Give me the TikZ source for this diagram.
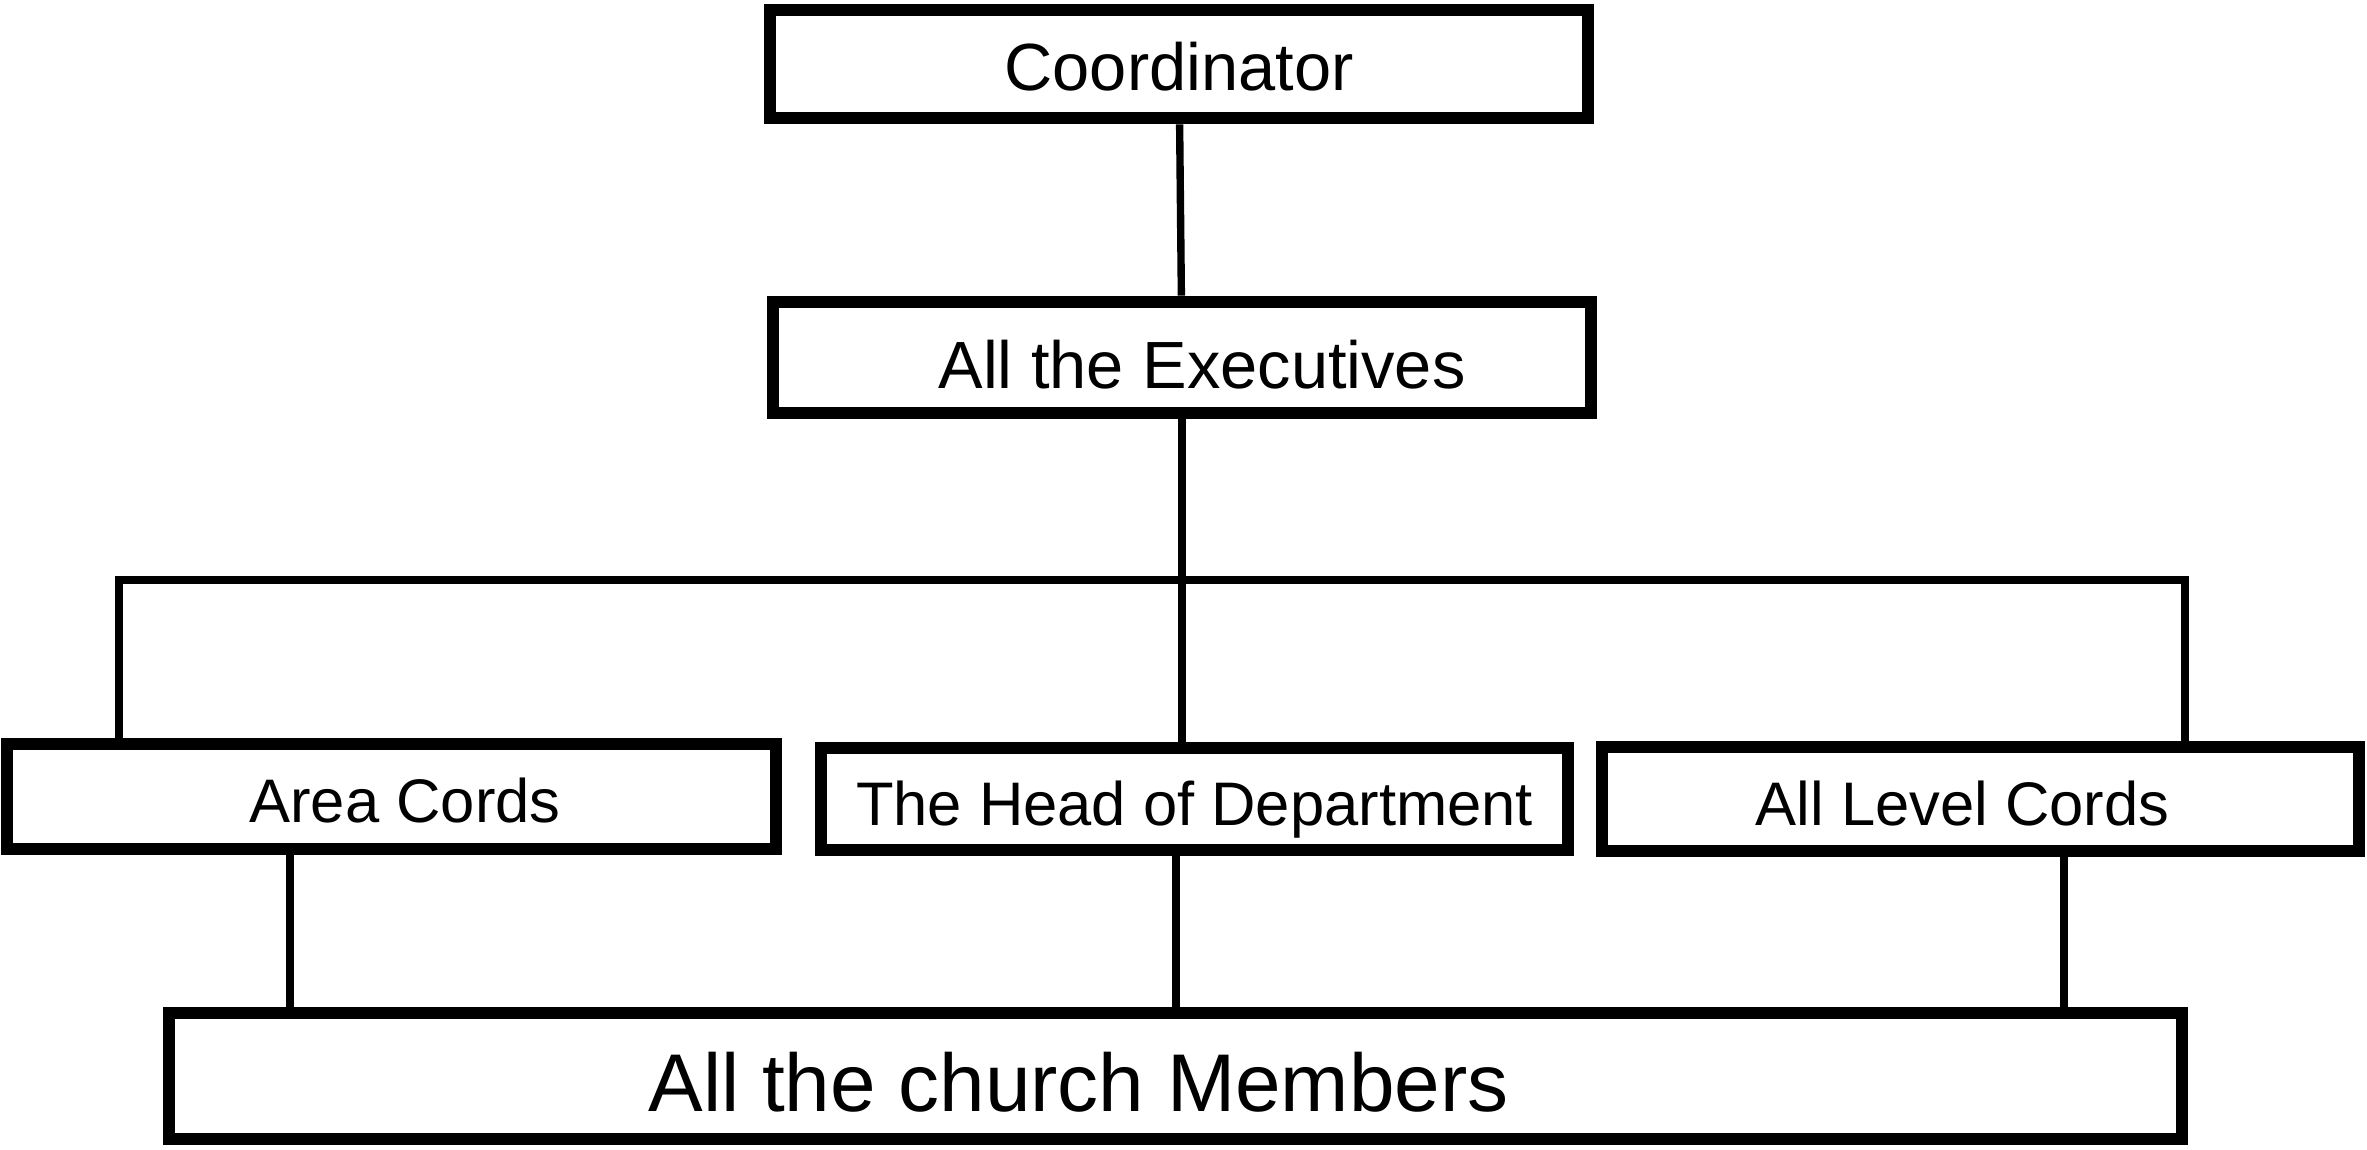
\documentclass[tikz,border=0pt]{standalone}
\usepackage{fontspec}
\setmainfont{Liberation Sans}
\usetikzlibrary{positioning}

\begin{document}
\begin{tikzpicture}[
        box/.style={draw=black,line width=3.6pt,fill=white,inner sep=0pt,
                    text height=0.62cm,text depth=0pt,
                    font=\fontsize{19}{22}\selectfont},
        lowbox/.style={box,text height=0.53cm,font=\fontsize{17.5}{21}\selectfont},
        link/.style={draw=black,line width=2.1pt}]
        \useasboundingbox (0,0) rectangle (23.67,11.5);
        \node[box,text height=0.53cm,minimum width=8.18cm,minimum height=1.08cm]
          (coord) at (11.79,10.86) {Coordinator};
        \node[box,minimum width=8.18cm,minimum height=1.11cm]
          (exec) at (11.82,7.925) {\hspace*{0.4cm}All the Executives};
        \node[lowbox,minimum width=7.69cm,minimum height=1.05cm]
          (area) at (3.915,3.535) {\hspace*{0.27cm}Area Cords};
        \node[lowbox,minimum width=7.47cm,minimum height=1.02cm]
          (hod) at (11.945,3.51) {The Head of Department};
        \node[lowbox,minimum width=7.57cm,minimum height=1.04cm]
          (alc) at (19.805,3.51) {All Level Cords\hspace*{0.36cm}};
        \node[box,text height=0.72cm,font=\fontsize{23.3}{27}\selectfont,
              minimum width=20.13cm,minimum height=1.26cm]
          (members) at (11.755,0.74) {All the church Members\hspace*{1.94cm}};
        \coordinate (busL) at (1.19,5.70);
        \coordinate (busR) at (21.85,5.70);
        \draw[link] (coord) -- (exec);
        \draw[link] (exec.south) -- (exec.south |- hod.north);
        \draw[link] (busL |- area.north) -- (busL) -- (busR) -- (busR |- alc.north);
        \draw[link] ([xshift=-1.015cm]area.south)
          -- ([xshift=-1.015cm]area.south |- members.north);
        \draw[link] ([xshift=-0.185cm]hod.south)
          -- ([xshift=-0.185cm]hod.south |- members.north);
        \draw[link] ([xshift=0.835cm]alc.south)
          -- ([xshift=0.835cm]alc.south |- members.north);
      \end{tikzpicture}
\end{document}
